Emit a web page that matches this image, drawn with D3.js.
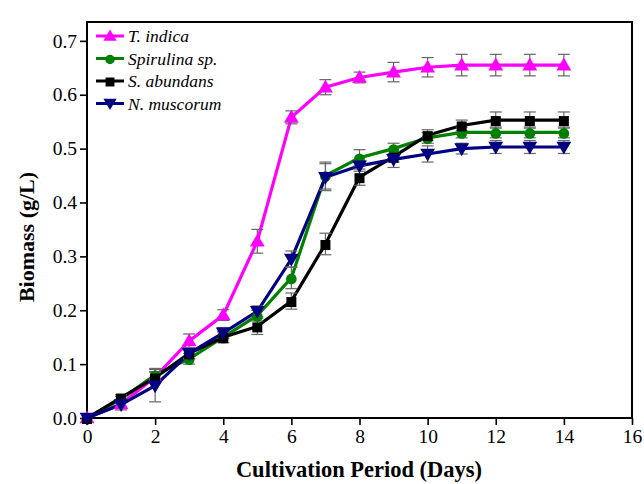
<!DOCTYPE html>
<html><head><meta charset="utf-8">
<script src="https://cdn.jsdelivr.net/npm/d3@7"></script>
<style>body{margin:0;background:#fff}svg{display:block}
svg text{font-family:"Liberation Serif","DejaVu Serif","Noto Serif",serif}</style>
</head><body>
<svg id="c" width="644" height="484"></svg>
<script>
const days = [0,1,2,3,4,5,6,7,8,9,10,11,12,13,14];
const seriesNames = ["T. indica","Spirulina sp.","S. abundans","N. muscorum"];
const tIndica     = [0,0.026,0.076,0.143,0.191,0.328,0.558,0.614,0.632,0.642,0.651,0.655,0.655,0.655,0.655];
const tIndicaErr  = [0,0.005,0.01,0.013,0.01,0.022,0.012,0.014,0.01,0.018,0.018,0.02,0.02,0.02,0.02];
const spirulina   = [0,0.035,0.08,0.11,0.15,0.19,0.26,0.45,0.483,0.50,0.52,0.53,0.53,0.53,0.53];
const spirulinaErr= [0,0.005,0.012,0.01,0.01,0.01,0.02,0.025,0.015,0.01,0.01,0.01,0.01,0.01,0.01];
const abundans    = [0,0.038,0.075,0.12,0.15,0.17,0.217,0.323,0.447,0.485,0.525,0.543,0.553,0.553,0.553];
const abundansErr = [0,0.005,0.01,0.01,0.01,0.015,0.015,0.02,0.015,0.01,0.01,0.01,0.015,0.015,0.015];
const muscorum    = [0,0.025,0.06,0.12,0.158,0.198,0.295,0.447,0.468,0.48,0.49,0.50,0.503,0.503,0.503];
const muscorumErr = [0,0.01,0.03,0.01,0.01,0.01,0.015,0.025,0.01,0.015,0.015,0.01,0.012,0.012,0.012];
const xTicks = [0,2,4,6,8,10,12,14,16];
const yTicks = [0,0.1,0.2,0.3,0.4,0.5,0.6,0.7];

const series = [
  {name:seriesNames[0], vals:tIndica, err:tIndicaErr, color:"#ff00ff", sym:d3.symbolTriangle, rot:0},
  {name:seriesNames[1], vals:spirulina, err:spirulinaErr, color:"#008000", sym:d3.symbolCircle, rot:0},
  {name:seriesNames[2], vals:abundans, err:abundansErr, color:"#000000", sym:d3.symbolSquare, rot:0},
  {name:seriesNames[3], vals:muscorum, err:muscorumErr, color:"#000080", sym:d3.symbolTriangle, rot:180}
];

const svg = d3.select("#c");
const L=87, R=632, T=22, B=418;
const x = d3.scaleLinear().domain([0,16]).range([L,R]);
const y = d3.scaleLinear().domain([0,0.735]).range([B,T]);

const xAx = svg.append("g").attr("transform",`translate(0,${B})`)
  .call(d3.axisBottom(x).tickValues(xTicks).tickFormat(d3.format("d")).tickSizeInner(7).tickSizeOuter(0).tickPadding(4));
const yAx = svg.append("g").attr("transform",`translate(${L},0)`)
  .call(d3.axisLeft(y).tickValues(yTicks).tickFormat(d3.format(".1f")).tickSizeInner(7).tickSizeOuter(0).tickPadding(3));
[xAx,yAx].forEach(g=>{
  g.attr("font-family",null);
  g.select(".domain").remove();
  g.selectAll("line").attr("stroke","#000").attr("stroke-width",1.6);
  g.selectAll("text").attr("font-size",19.5).attr("fill","#000");
});
svg.append("rect").attr("x",L).attr("y",T).attr("width",R-L).attr("height",B-T)
  .attr("fill","none").attr("stroke","#000").attr("stroke-width",2);

const plot = svg.append("g");
const line = d3.line().x((d,i)=>x(days[i])).y(d=>y(d));

series.forEach(s=>{
  plot.append("path").datum(s.vals).attr("d",line).attr("fill","none")
    .attr("stroke",s.color).attr("stroke-width",3.2);
});
series.forEach(s=>{
  const g = plot.append("g").attr("stroke","#666").attr("stroke-width",1.2);
  s.vals.forEach((v,i)=>{
    const e = s.err[i]; if(!e) return;
    const cx = x(days[i]);
    g.append("line").attr("x1",cx).attr("x2",cx).attr("y1",y(v-e)).attr("y2",y(v+e));
    [v-e,v+e].forEach(w=>g.append("line").attr("x1",cx-6).attr("x2",cx+6).attr("y1",y(w)).attr("y2",y(w)));
  });
});
series.forEach(s=>{
  const size = s.sym===d3.symbolCircle ? 90 : (s.sym===d3.symbolSquare ? 100 : 95);
  plot.append("g").selectAll("path").data(s.vals).join("path")
    .attr("d",d3.symbol().type(s.sym).size(size))
    .attr("transform",(d,i)=>`translate(${x(days[i])},${y(d)+(s.rot?-1:1)}) rotate(${s.rot})`)
    .attr("fill",s.color);
});

const lg = svg.append("g");
series.forEach((s,i)=>{
  const yy = 36 + i*22.5;
  lg.append("line").attr("x1",96).attr("x2",124).attr("y1",yy).attr("y2",yy).attr("stroke",s.color).attr("stroke-width",3);
  const size = s.sym===d3.symbolCircle ? 70 : (s.sym===d3.symbolSquare ? 80 : 75);
  lg.append("path").attr("d",d3.symbol().type(s.sym).size(size))
    .attr("transform",`translate(110,${yy+(s.rot?-1:1)}) rotate(${s.rot})`).attr("fill",s.color);
  lg.append("text").attr("x",128).attr("y",yy+6).text(s.name)
    .attr("font-style","italic").attr("font-size",17.5).attr("fill","#000");
});

svg.append("text").attr("x",359).attr("y",477).attr("text-anchor","middle")
  .attr("font-weight","bold").attr("font-size",22.5).text("Cultivation Period (Days)");
svg.append("text").attr("transform",`translate(34,${(T+B)/2+17}) rotate(-90)`).attr("text-anchor","middle")
  .attr("font-weight","bold").attr("font-size",22).text("Biomass (g/L)");
</script>
</body></html>
